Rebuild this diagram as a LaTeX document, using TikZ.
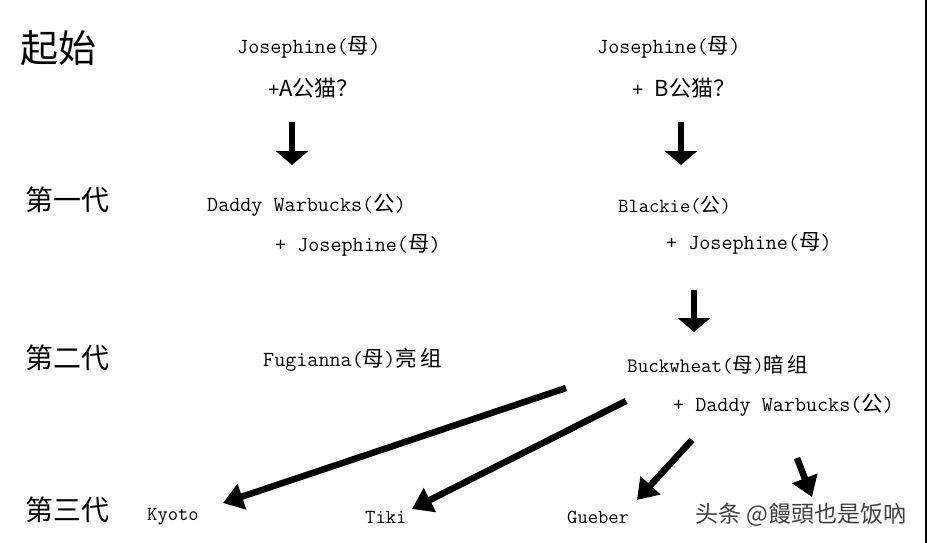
\documentclass[tikz,border=0pt]{standalone}
\usepackage{fontspec}
\usepackage{tikz}
\usetikzlibrary{arrows.meta}

\newfontfamily\cjk{Noto Sans CJK SC}
\newcommand{\zh}[1]{{\cjk #1}}

\begin{document}
\begin{tikzpicture}[x = 1pt, y = -1pt,
  gen/.style  = {anchor = west, inner sep = 0, font = \cjk\fontsize{28}{30}\selectfont},
  cat/.style  = {anchor = west, inner sep = 0, font = \ttfamily\fontsize{21.5}{23}\selectfont},
  kit/.style  = {anchor = west, inner sep = 0, font = \ttfamily\fontsize{20}{22}\selectfont},
  down/.style = {line width = 6pt, -{Triangle[width = 32pt, length = 14pt]}},
  diag/.style = {line width = 6.5pt, -{Triangle[width = 26pt, length = 20pt]}}]

  \useasboundingbox (0, 0) rectangle (927, 543);
  \draw[line width = 1.5pt] (926, 0) -- (926, 543); % right edge

  % Generations
  \node[gen, font = \cjk\fontsize{38}{40}\selectfont] (start) at (20, 48) {起始};
  \node[gen] (first)  at (25, 200) {第一代};
  \node[gen] (second) at (25, 358) {第二代};
  \node[gen] (third)  at (25, 510) {第三代};

  % Start, left and right
  \node[cat] (josA) at (237, 47) {Josephine(\zh{母})};
  \node[cat, font = \ttfamily\fontsize{22}{24}\selectfont] (tomA) at (268, 88) {+\zh{A公猫？}};
  \node[cat] (josB) at (597, 47) {Josephine(\zh{母})};
  \node[cat, font = \ttfamily\fontsize{22}{24}\selectfont] (tomB) at (632, 88) {+ \zh{B公猫？}};

  % First generation
  \node[cat] (daddy)   at (207, 205) {Daddy Warbucks(\zh{公})};
  \node[cat] (mateA)   at (275, 245) {+ Josephine(\zh{母})};
  \node[kit] (blackie) at (618, 205) {Blackie(\zh{公})};
  \node[cat] (mateB)   at (666, 243) {+ Josephine(\zh{母})};

  % Second generation
  \node[cat] (fugi)  at (263, 360) {Fugianna(\zh{母})\zh{亮\,组}};
  \node[cat, font = \ttfamily\fontsize{20.5}{22}\selectfont] (buck) at (627, 365) {Buckwheat(\zh{母})\zh{暗\,组}};
  \node[cat] (mateC) at (673, 405) {+ Daddy Warbucks(\zh{公})};

  % Third generation
  \node[kit] (kyoto)  at (147, 517) {Kyoto};
  \node[kit] (tiki)   at (365, 517) {Tiki};
  \node[kit] (gueber) at (567, 517) {Gueber};
  \coordinate (hidden) at (812, 497);

  \node[anchor = west, inner sep = 0, text = black!75, font = \cjk\fontsize{23}{25}\selectfont] (mark) at (695, 515) {头条 @饅頭也是饭吶};

  % Arrows
  \draw[down] ([shift = {(24, 34)}]tomA.west) -- ([shift = {(85, -40)}]daddy.west);
  \draw[down] ([shift = {(49, 34)}]tomB.west) -- ([shift = {(63, -40)}]blackie.west);
  \draw[down] ([shift = {(28, 47)}]mateB.west) -- ([shift = {(67, -33)}]buck.west);

  \draw[diag] ([shift = {(-61, 23)}]buck.west) -- ([shift = {(76, -14)}]kyoto.west);
  \draw[diag] ([shift = {(-1, 36)}]buck.west) -- ([shift = {(47, -8)}]tiki.west);
  \draw[diag] ([shift = {(19, 35)}]mateC.west) -- ([shift = {(70, -17)}]gueber.west);
  \draw[diag] ([shift = {(124, 53)}]mateC.west) -- (hidden);

\end{tikzpicture}
\end{document}
